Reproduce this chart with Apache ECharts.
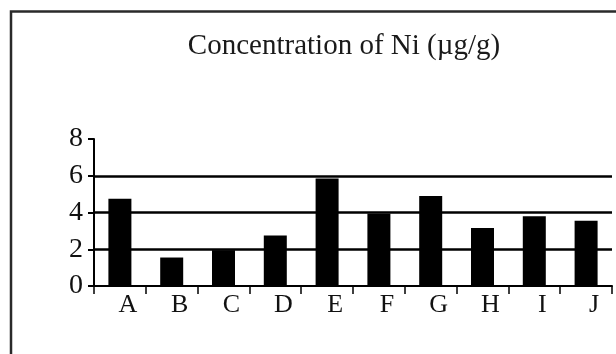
<!DOCTYPE html>
<html>
<head>
<meta charset="utf-8">
<script src="https://cdn.jsdelivr.net/npm/echarts@6/dist/echarts.min.js"></script>
<style>
html,body{margin:0;padding:0;background:#fff;}
#chart{width:616px;height:354px;}
</style>
</head>
<body>
<div id="chart"></div>
<script>
var categories = ['A','B','C','D','E','F','G','H','I','J'];
var niValues = [4.75, 1.55, 1.95, 2.75, 5.85, 3.95, 4.9, 3.15, 3.8, 3.55];
var yMin = 0, yMax = 8, yStep = 2;
var titleText = 'Concentration of Ni (\u00b5g/g)';

var serif = '"Liberation Serif", "DejaVu Serif", serif';
var chart = echarts.init(document.getElementById('chart'), null, {renderer:'canvas'});
chart.setOption({
  backgroundColor: '#fff',
  animation: false,
  title: {
    text: titleText,
    left: 339, top: 27,
    textAlign: 'center',
    textStyle: {fontFamily: serif, fontSize: 29, fontWeight: 'normal', color: '#1a1a1a'}
  },
  graphic: [{
    type: 'rect',
    shape: {x: 11, y: 11.5, width: 900, height: 600},
    style: {fill: null, stroke: '#2a2a2a', lineWidth: 2.5},
    silent: true
  }],
  grid: {left: 94, right: 4, top: 139, bottom: 68, containLabel: false},
  xAxis: {
    type: 'category',
    data: categories,
    boundaryGap: true,
    axisLine: {show: true, lineStyle: {color: '#000', width: 2}},
    axisTick: {show: true, length: 8, interval: 0, lineStyle: {color: '#000', width: 1.5}},
    axisLabel: {interval: 0, margin: 6, fontFamily: serif, fontSize: 26, color: '#111', padding: [0,0,0,16]},
    splitLine: {show: false}
  },
  yAxis: {
    type: 'value',
    min: yMin, max: yMax, interval: yStep,
    axisLine: {show: true, lineStyle: {color: '#000', width: 2}},
    axisTick: {show: true, length: 6, lineStyle: {color: '#000', width: 2}},
    axisLabel: {margin: 11, fontFamily: serif, fontSize: 28, color: '#111'},
    splitLine: {show: true, showMinLine: false, showMaxLine: false, lineStyle: {color: '#000', width: 2.5}}
  },
  series: [{
    type: 'bar',
    data: niValues,
    barWidth: 23,
    itemStyle: {color: '#000'}
  }]
});
</script>
</body>
</html>
